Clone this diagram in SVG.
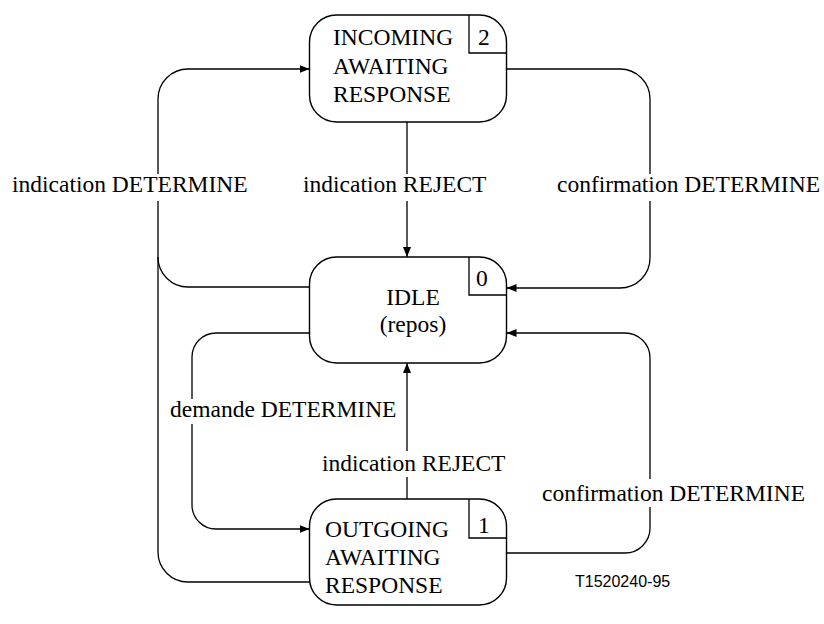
<svg xmlns="http://www.w3.org/2000/svg" width="824" height="624" viewBox="0 0 824 624">
<style>
.box{fill:#fff;stroke:#000;stroke-width:1.4}
.ln{fill:none;stroke:#000;stroke-width:1.3}
.t{font-family:"Liberation Serif","Times New Roman",serif;font-size:23.5px;fill:#000}
.bg{fill:#fff;stroke:none}
.ft{font-family:"Liberation Sans",Arial,sans-serif;font-size:16px;fill:#000}
</style>
<defs>
<marker id="ah" viewBox="0 0 10 8" refX="10" refY="4" markerWidth="10" markerHeight="8" markerUnits="userSpaceOnUse" orient="auto">
<path d="M0,0 L10,4 L0,8 Z" fill="#000"/>
</marker>
</defs>
<g id="connectors">
<path class="ln" d="M310,582 H188 A30,30 0 0 1 158,552 V99 A30,30 0 0 1 188,69 H309.5" marker-end="url(#ah)"/>
<path class="ln" d="M310,287 H188 A30,30 0 0 1 158,257"/>
<path class="ln" d="M407,122 V257" marker-end="url(#ah)"/>
<path class="ln" d="M506.5,69 H620 A30,30 0 0 1 650,99 V258 A30,30 0 0 1 620,288 H506.5" marker-end="url(#ah)"/>
<path class="ln" d="M310,333 H216 A24,24 0 0 0 192,357 V505 A24,24 0 0 0 216,529 H309.5" marker-end="url(#ah)"/>
<path class="ln" d="M407,499 V363" marker-end="url(#ah)"/>
<path class="ln" d="M506.5,553 H625 A25,25 0 0 0 650,528 V358 A25,25 0 0 0 625,333 H506.5" marker-end="url(#ah)"/>
<rect class="bg" x="10" y="174" width="242" height="27"/>
<text class="t" x="12" y="192">indication DETERMINE</text>
<rect class="bg" x="301" y="174" width="188" height="27"/>
<text class="t" x="303" y="192">indication REJECT</text>
<rect class="bg" x="555" y="174" width="268" height="27"/>
<text class="t" x="557" y="192">confirmation DETERMINE</text>
<rect class="bg" x="168" y="399" width="233" height="25"/>
<text class="t" x="170" y="417">demande DETERMINE</text>
<rect class="bg" x="320" y="451" width="190" height="26"/>
<text class="t" x="322" y="471">indication REJECT</text>
<rect class="bg" x="540" y="479" width="268" height="28"/>
<text class="t" x="542" y="501">confirmation DETERMINE</text>
</g>
<g id="incoming">
<rect class="box" x="309.5" y="15" width="197" height="107" rx="27" ry="27"/>
<path class="ln" d="M469,15 V53 H506.5"/>
<text class="t" x="478" y="45">2</text>
<text class="t" x="333" y="45">INCOMING</text>
<text class="t" x="333" y="74">AWAITING</text>
<text class="t" x="333" y="102">RESPONSE</text>
</g>
<g id="idle">
<rect class="box" x="309.5" y="257" width="197" height="106" rx="27" ry="27"/>
<path class="ln" d="M469,257 V295 H506.5"/>
<text class="t" x="476" y="286">0</text>
<text class="t" x="413" y="305" text-anchor="middle">IDLE</text>
<text class="t" x="413" y="332" text-anchor="middle">(repos)</text>
</g>
<g id="outgoing">
<rect class="box" x="309.5" y="499" width="197" height="106" rx="27" ry="27"/>
<path class="ln" d="M469,499 V538 H506.5"/>
<text class="t" x="478" y="533">1</text>
<text class="t" x="325" y="537">OUTGOING</text>
<text class="t" x="325" y="565">AWAITING</text>
<text class="t" x="325" y="593">RESPONSE</text>
</g>
<text class="ft" x="575" y="587">T1520240-95</text>
</svg>
